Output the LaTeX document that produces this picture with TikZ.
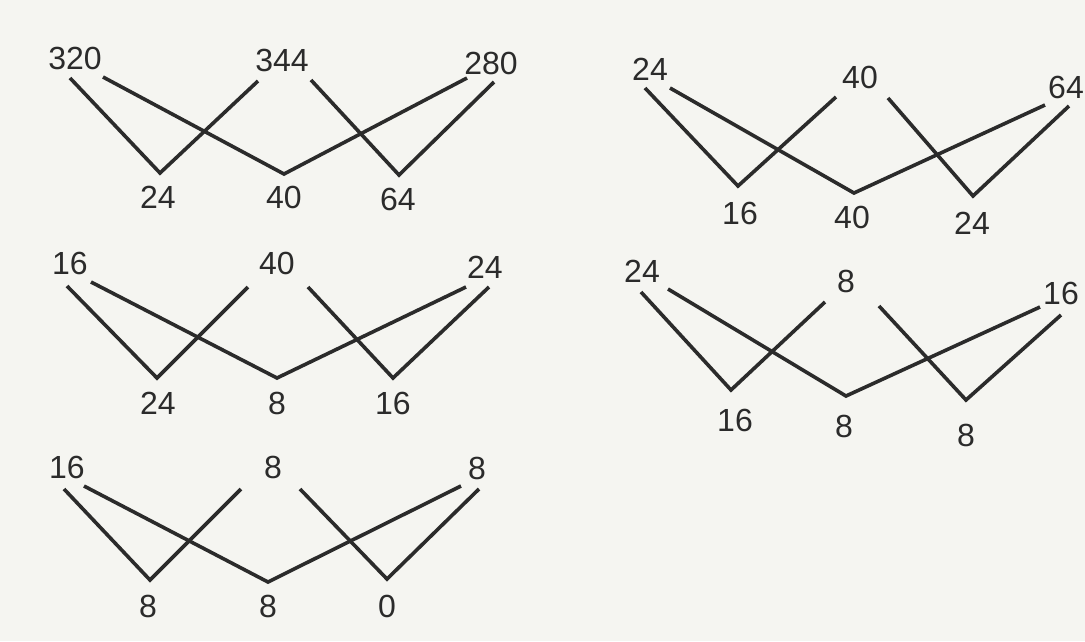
\documentclass[tikz,border=0pt]{standalone}
\usepackage{fontspec}
\setmainfont{Liberation Sans}
\usetikzlibrary{positioning}
\definecolor{Paper}{HTML}{F5F5F1}
\definecolor{Ink}{HTML}{2B2B2B}

\begin{document}
\begin{tikzpicture}[x=1pt,y=-1pt,
  num/.style={font=\fontsize{32}{38}\selectfont,text=Ink,inner sep=0pt},
  edge/.style={Ink,line width=3.6pt}]
\fill[Paper] (0,0) rectangle (1085,641);
\useasboundingbox (0,0) rectangle (1085,641);
% top left
\node[num] (a1) at (75,58) {320};
\node[num] (a2) at (282,60) {344};
\node[num] (a3) at (491,63) {280};
\coordinate (a1l) at (70,78);
\coordinate (a1r) at (103,77);
\coordinate (a2l) at (258,81);
\coordinate (a2r) at (311,80);
\coordinate (a3l) at (467,78);
\coordinate (a3r) at (494,82);
\coordinate (av1) at (160,173);
\coordinate (av2) at (284,174);
\coordinate (av3) at (399,175);
\node[num] (an1) at (158,197) {24};
\node[num] (an2) at (284,197) {40};
\node[num] (an3) at (398,199) {64};
\draw[edge] (a1l) -- (av1) -- (a2l);
\draw[edge] (a1r) -- (av2) -- (a3l);
\draw[edge] (a2r) -- (av3) -- (a3r);
% top right
\node[num] (b1) at (650,69) {24};
\node[num] (b2) at (860,77) {40};
\node[num] (b3) at (1066,87) {64};
\coordinate (b1l) at (645,88);
\coordinate (b1r) at (670,88);
\coordinate (b2l) at (836,97);
\coordinate (b2r) at (888,98);
\coordinate (b3l) at (1045,105);
\coordinate (b3r) at (1069,106);
\coordinate (bv1) at (738,186);
\coordinate (bv2) at (854,193);
\coordinate (bv3) at (973,196);
\node[num] (bn1) at (740,213) {16};
\node[num] (bn2) at (852,217) {40};
\node[num] (bn3) at (972,223) {24};
\draw[edge] (b1l) -- (bv1) -- (b2l);
\draw[edge] (b1r) -- (bv2) -- (b3l);
\draw[edge] (b2r) -- (bv3) -- (b3r);
% middle left
\node[num] (c1) at (70,263) {16};
\node[num] (c2) at (277,263) {40};
\node[num] (c3) at (485,267) {24};
\coordinate (c1l) at (67,286);
\coordinate (c1r) at (91,282);
\coordinate (c2l) at (248,287);
\coordinate (c2r) at (308,287);
\coordinate (c3l) at (466,287);
\coordinate (c3r) at (489,287);
\coordinate (cv1) at (157,378);
\coordinate (cv2) at (277,378);
\coordinate (cv3) at (393,378);
\node[num] (cn1) at (158,403) {24};
\node[num] (cn2) at (277,403) {8};
\node[num] (cn3) at (393,403) {16};
\draw[edge] (c1l) -- (cv1) -- (c2l);
\draw[edge] (c1r) -- (cv2) -- (c3l);
\draw[edge] (c2r) -- (cv3) -- (c3r);
% middle right
\node[num] (d1) at (642,271) {24};
\node[num] (d2) at (846,281) {8};
\node[num] (d3) at (1061,293) {16};
\coordinate (d1l) at (641,292);
\coordinate (d1r) at (668,289);
\coordinate (d2l) at (825,302);
\coordinate (d2r) at (879,306);
\coordinate (d3l) at (1040,307);
\coordinate (d3r) at (1061,315);
\coordinate (dv1) at (731,390);
\coordinate (dv2) at (846,396);
\coordinate (dv3) at (966,400);
\node[num] (dn1) at (735,420) {16};
\node[num] (dn2) at (844,426) {8};
\node[num] (dn3) at (966,435) {8};
\draw[edge] (d1l) -- (dv1) -- (d2l);
\draw[edge] (d1r) -- (dv2) -- (d3l);
\draw[edge] (d2r) -- (dv3) -- (d3r);
% bottom left
\node[num] (e1) at (67,467) {16};
\node[num] (e2) at (273,467) {8};
\node[num] (e3) at (477,468) {8};
\coordinate (e1l) at (64,489);
\coordinate (e1r) at (84,486);
\coordinate (e2l) at (241,489);
\coordinate (e2r) at (300,489);
\coordinate (e3l) at (461,486);
\coordinate (e3r) at (479,489);
\coordinate (ev1) at (150,580);
\coordinate (ev2) at (268,582);
\coordinate (ev3) at (387,579);
\node[num] (en1) at (148,606) {8};
\node[num] (en2) at (268,606) {8};
\node[num] (en3) at (387,606) {0};
\draw[edge] (e1l) -- (ev1) -- (e2l);
\draw[edge] (e1r) -- (ev2) -- (e3l);
\draw[edge] (e2r) -- (ev3) -- (e3r);
\end{tikzpicture}
\end{document}
